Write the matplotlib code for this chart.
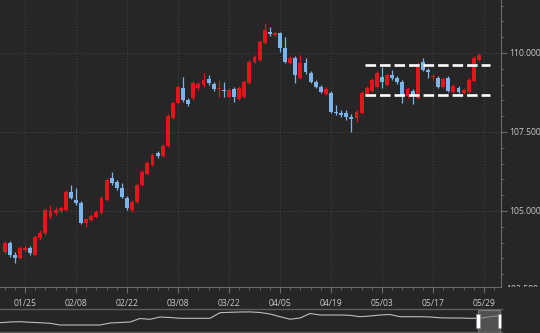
import matplotlib
matplotlib.use("Agg")
import matplotlib.pyplot as plt
from matplotlib.patches import Rectangle
from matplotlib.ticker import FixedLocator, MultipleLocator
from matplotlib.transforms import Bbox, TransformedBbox
import numpy as np

# ---------------- data (USD/JPY daily candles) ----------------
opens = [103.70, 103.99, 103.61, 103.51, 103.77, 103.83, 103.61, 104.15, 104.30, 104.81,
         104.94, 105.00, 105.03, 105.60, 105.35, 105.25, 104.62, 104.72, 104.81, 104.94,
         105.35, 106.04, 105.92, 105.73, 105.41, 105.03, 105.28, 105.82, 106.17, 106.46,
         106.84, 106.74, 107.06, 107.94, 108.42, 108.89, 108.51, 108.58, 108.89, 108.99,
         109.18, 109.02, 108.86, 108.83, 108.61, 108.86, 108.54, 108.61, 109.05, 109.72,
         109.78, 110.32, 110.66, 110.57, 110.63, 110.16, 109.68, 109.84, 109.21, 109.68,
         109.37, 109.08, 108.92, 108.70, 108.73, 108.13, 108.10, 108.10, 107.97, 107.94,
         108.10, 108.67, 108.80, 108.92, 109.24, 108.99, 109.30, 109.21, 109.08, 108.64,
         108.80, 108.58, 109.72, 109.46, 109.24, 109.21, 108.92, 109.21, 108.77, 108.89,
         108.73, 108.77, 109.11, 109.78]
highs = [104.05, 104.05, 103.70, 103.89, 103.92, 103.89, 104.24, 104.40, 105.09, 105.19,
         105.13, 105.16, 105.66, 105.82, 105.73, 105.32, 104.78, 104.91, 105.03, 105.47,
         106.04, 106.23, 105.98, 105.89, 105.47, 105.35, 105.89, 106.30, 106.58, 106.84,
         106.90, 107.12, 108.07, 108.48, 108.99, 109.24, 108.58, 109.11, 109.08, 109.37,
         109.30, 109.08, 109.15, 109.08, 108.89, 108.92, 108.96, 109.15, 109.78, 109.94,
         110.41, 110.95, 110.82, 110.70, 110.66, 110.51, 109.91, 109.91, 109.94, 109.84,
         109.43, 109.15, 108.99, 108.92, 108.80, 108.35, 108.20, 108.20, 108.07, 108.20,
         108.80, 108.96, 109.21, 109.43, 109.56, 109.37, 109.46, 109.27, 109.15, 108.92,
         108.86, 109.72, 109.84, 109.53, 109.34, 109.27, 109.24, 109.27, 109.02, 108.96,
         108.89, 109.21, 109.91, 110.00]
lows = [103.64, 103.54, 103.35, 103.48, 103.70, 103.61, 103.58, 104.08, 104.24, 104.75,
        104.87, 104.94, 105.00, 105.38, 105.19, 104.59, 104.49, 104.68, 104.78, 104.91,
        105.32, 105.82, 105.66, 105.41, 105.03, 104.97, 105.25, 105.79, 106.14, 106.42,
        106.68, 106.71, 107.03, 107.91, 108.39, 108.45, 108.32, 108.51, 108.83, 108.92,
        108.99, 108.80, 108.61, 108.61, 108.58, 108.45, 108.51, 108.58, 109.02, 109.68,
        109.75, 110.28, 110.54, 110.51, 110.03, 109.68, 109.65, 109.05, 109.18, 109.34,
        109.05, 108.89, 108.73, 108.67, 108.10, 108.04, 107.97, 107.88, 107.50, 107.82,
        108.07, 108.64, 108.77, 108.89, 108.89, 108.96, 109.15, 109.02, 108.42, 108.58,
        108.39, 108.54, 109.43, 109.21, 109.15, 108.89, 108.89, 108.77, 108.73, 108.73,
        108.70, 108.73, 109.08, 109.75]
closes = [103.99, 103.61, 103.51, 103.83, 103.83, 103.67, 104.18, 104.30, 105.03, 105.00,
          105.03, 105.09, 105.60, 105.41, 105.25, 104.62, 104.75, 104.84, 104.97, 105.41,
          105.98, 105.89, 105.73, 105.44, 105.09, 105.28, 105.82, 106.23, 106.52, 106.77,
          106.74, 107.06, 108.01, 108.42, 108.92, 108.51, 108.39, 109.05, 109.02, 109.15,
          109.05, 108.86, 108.89, 108.80, 108.83, 108.61, 108.89, 109.08, 109.72, 109.87,
          110.35, 110.73, 110.60, 110.63, 110.16, 109.72, 109.84, 109.30, 109.68, 109.40,
          109.08, 108.92, 108.77, 108.86, 108.13, 108.10, 108.04, 107.97, 107.91, 108.13,
          108.73, 108.89, 109.15, 109.37, 109.08, 109.30, 109.21, 109.08, 108.67, 108.86,
          108.64, 109.65, 109.46, 109.40, 109.27, 108.92, 109.18, 108.80, 108.96, 108.77,
          108.83, 109.15, 109.84, 109.94]

date_labels = ["01/25", "02/08", "02/22", "03/08", "03/22", "04/05", "04/19", "05/03", "05/17", "05/29"]
date_label_index = [4, 14, 24, 34, 44, 54, 64, 74, 84, 94]

price_major = [102.5, 105.0, 107.5, 110.0]

resistance_level = 109.62
support_level = 108.67
range_start_index = 70.7
range_end_index = 95.2

# navigator: long-history close series (sampled evenly)
nav_values = [97.6, 99.0, 99.6, 98.4, 97.6, 96.4, 93.0, 93.0, 93.0, 93.0,
              93.0, 97.0, 98.0, 99.0, 106.0, 104.4, 109.0, 108.0, 106.4, 106.4,
              106.4, 106.4, 117.6, 118.4, 119.0, 119.2, 118.0, 115.0, 109.6, 104.6,
              107.0, 116.0, 113.0, 113.0, 113.0, 112.4, 109.6, 111.0, 113.0, 114.0,
              109.6, 109.6, 109.6, 109.0, 107.4, 107.0, 107.0, 106.4, 106.4, 109.6,
              111.6]
nav_window = (47.8, 49.95)

# ---------------- style ----------------
BG = "#262626"
UP = "#e3141b"
DOWN = "#7cb5ec"
TXT = "#c9c9c9"
AXC = "#6a6a6a"
GRID = "#474747"
FONT = ["Open Sans", "DejaVu Sans"]
FS = 6.2

W, H = 540, 333
fig = plt.figure(figsize=(W / 100, H / 100), dpi=100, facecolor=BG)

ax_left, ax_right, ax_top, ax_bot = 0, 501, 0, 287
ax = fig.add_axes([ax_left / W, 1 - ax_bot / H, (ax_right - ax_left) / W, (ax_bot - ax_top) / H])
ax.set_facecolor(BG)

n = len(opens)
idx = np.arange(n)
bw = 0.76
for i in idx:
    o, h, l, c = opens[i], highs[i], lows[i], closes[i]
    col = UP if c >= o else DOWN
    ax.vlines(i, l, h, color=col, lw=0.9, zorder=2)
    lo, hi = min(o, c), max(o, c)
    if hi - lo < 0.03:
        hi = lo + 0.03
    ax.add_patch(Rectangle((i - bw / 2, lo), bw, hi - lo, facecolor=col, edgecolor="none", zorder=3))

for lvl in (resistance_level, support_level):
    ax.plot([range_start_index, range_end_index], [lvl, lvl], color="white", lw=1.9,
            dashes=(4, 1.5), solid_capstyle="butt", dash_capstyle="butt", zorder=4)

ax.set_xlim(-0.9, 97.33)
ax.set_ylim(102.595, 111.677)

for s in ("left", "top"):
    ax.spines[s].set_visible(False)
ax.spines["right"].set_color(AXC)
ax.spines["bottom"].set_color(AXC)
ax.spines["right"].set_linewidth(0.8)
ax.spines["bottom"].set_linewidth(0.8)

ax.yaxis.tick_right()
ax.yaxis.set_major_locator(FixedLocator(price_major))
ax.yaxis.set_minor_locator(MultipleLocator(0.5))
ax.set_yticklabels([f"{v:.3f}" for v in price_major])
ax.tick_params(axis="y", which="major", length=4, width=0.8, color=AXC, labelcolor=TXT,
               labelsize=FS, pad=2.0)
ax.tick_params(axis="y", which="minor", length=2.5, width=0.6, color=AXC)

ax.xaxis.set_major_locator(FixedLocator(date_label_index))
ax.xaxis.set_minor_locator(MultipleLocator(2))
ax.set_xticklabels(date_labels)
ax.tick_params(axis="x", which="major", length=4, width=0.8, color=AXC, labelcolor=TXT,
               labelsize=FS, pad=5)
ax.tick_params(axis="x", which="minor", length=2.5, width=0.6, color=AXC)
for lab in ax.get_xticklabels() + ax.get_yticklabels():
    lab.set_family(FONT)

ax.grid(True, which="major", color=GRID, lw=0.7, linestyle=(0, (1, 2)))
ax.set_axisbelow(True)

# partially hidden lowest price label
t = fig.text(506 / W, 1 - 290 / H, f"{price_major[0]:.3f}", color=TXT, fontsize=FS,
             family=FONT, ha="left", va="center")
t.set_clip_box(TransformedBbox(Bbox([[0, 1 - ax_bot / H], [1, 1]]), fig.transFigure))

# ---------------- navigator ----------------
nav = fig.add_axes([0, 1 - 332 / H, 502 / W, 23 / H])
nav.set_facecolor(BG)
nx = np.arange(len(nav_values))
nav.plot(nx, nav_values, color="#bdbdbd", lw=0.8)
nav.set_xlim(0, len(nav_values) - 1 + 0.2)
nav.set_ylim(79, 125)
for s in ("left", "right"):
    nav.spines[s].set_visible(False)
for s in ("top", "bottom"):
    nav.spines[s].set_color("#5c5c5c")
    nav.spines[s].set_linewidth(1.0)
nav.set_xticks([])
nav.set_yticks([])
nav.add_patch(Rectangle((nav_window[0], 80), nav_window[1] - nav_window[0], 44,
                        facecolor="#6e6e6e", alpha=0.6, edgecolor="#a0a0a0", lw=0.8, zorder=3))
for xh in nav_window:
    nav.add_patch(Rectangle((xh - 0.17, 88), 0.34, 28, facecolor="white", edgecolor="#8a8a8a",
                            lw=0.5, zorder=4))

fig.savefig("out.png", dpi=100, facecolor=BG)
